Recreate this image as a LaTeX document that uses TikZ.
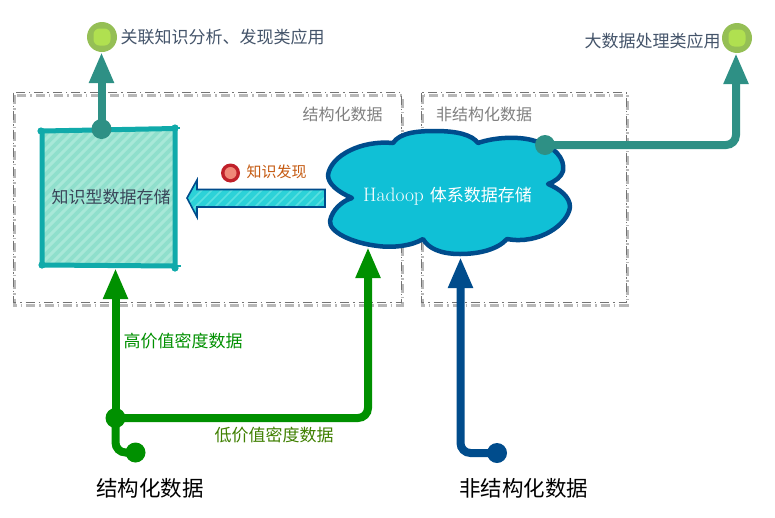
\documentclass[tikz,border=0pt]{standalone}
\usepackage{fontspec}
\newfontfamily\cjk{Noto Sans CJK SC}
\usetikzlibrary{arrows.meta}
\definecolor{tealA}{HTML}{2E9085}
\definecolor{greenA}{HTML}{009000}
\definecolor{blueA}{HTML}{004C8C}
\definecolor{boxline}{HTML}{10AAAA}
\definecolor{boxfill}{HTML}{8FDFCC}
\definecolor{boxhatch}{HTML}{A8E8D8}
\definecolor{cloudfill}{HTML}{10C0D6}
\definecolor{arrfill}{HTML}{2CD2D8}
\definecolor{arrhatch}{HTML}{5ADFE0}
\definecolor{inkA}{HTML}{44546A}
\definecolor{grayA}{HTML}{808080}
\definecolor{orangeA}{HTML}{C55A11}
\definecolor{oliveA}{HTML}{3F8000}
\definecolor{leafO}{HTML}{95BF55}
\definecolor{leafI}{HTML}{B0E050}
\definecolor{redO}{HTML}{C0202A}
\definecolor{redI}{HTML}{F08878}
\tikzset{
  x=1pt,y=-1pt,
  txt/.style={inner sep=0pt,outer sep=0pt,font=\cjk\fontsize{#1}{#1}\selectfont},
  flow/.style={line width=8pt,draw=#1,rounded corners=10pt,-{Triangle[length=31pt,width=23pt]}},
  plainflow/.style={line width=8pt,draw=#1,rounded corners=10pt},
  dotnode/.style={circle,fill=#1,inner sep=0pt,outer sep=0pt},
  frameline/.style={draw=black!55,line width=1pt,dash pattern=on 9pt off 4pt on 1.5pt off 4pt},
  frameshadow/.style={draw=black!28,line width=3pt,dash pattern=on 9pt off 4pt on 1.5pt off 4pt},
  leaf/.style={circle,fill=leafO,minimum size=30pt,inner sep=0pt,outer sep=0pt},
  leafcore/.style={rounded corners=6pt,fill=leafI,minimum size=17pt,inner sep=0pt},
}
\begin{document}
\begin{tikzpicture}
\useasboundingbox (0,0) rectangle (775,517);
\fill[white] (0,0) rectangle (775,517);
% frames
\draw[frameshadow] (14,95) rectangle (402,305);
\draw[frameshadow] (422,95) rectangle (627,305);
\draw[frameline] (13.5,92.5) rectangle (401,302.5);
\draw[frameline] (421.5,92.5) rectangle (626,302.5);
\node[txt=16,text=grayA] (lblS) at (342.5,114) {结构化数据};
\node[txt=16,text=grayA] (lblU) at (484,114) {非结构化数据};
% knowledge store
\fill[boxfill] (42,131) -- (175,128.5) -- (175,266) -- (42,265) -- cycle;
\begin{scope}
\clip (42,131) -- (175,128.5) -- (175,266) -- (42,265) -- cycle;
\foreach \i in {-130,-120,...,180} {\draw[boxhatch,line width=3pt] (\i,275) -- (\i+160,115);}
\end{scope}
\draw[boxline,line width=5pt] (42,131) -- (175,128.5) -- (175,266) -- (42,265) -- cycle;
\foreach \p/\q in {41/131,175/128,175/268,42/265} \fill[boxline] (\p,\q) circle (3.6);
\draw[boxline,line width=2pt] (38,131) -- (45,131) (172,128) -- (180,128) (39,265) -- (46,265) (172,266) -- (181,266);
\node[txt=17,text=inkA!85!black] (store) at (111,197) {知识型数据存储};
% discovery arrow
\path[fill=arrfill] (187,198) -- (197,180) -- (197,189.5) -- (325,189.5) -- (325,207) -- (197,207) -- (197,217) -- cycle;
\begin{scope}
\clip (187,198) -- (197,180) -- (197,189.5) -- (325,189.5) -- (325,207) -- (197,207) -- (197,217) -- cycle;
\foreach \i in {180,190,...,330} {\draw[arrhatch,line width=1.5pt] (\i,212) -- (\i+30,182);}
\end{scope}
\draw[blueA,line width=1.6pt,line join=miter] (187,198) -- (197,180) -- (197,189.5) -- (325,189.5) -- (325,207) -- (197,207) -- (197,217) -- cycle;
\node[circle,fill=redO,minimum size=19pt,inner sep=0pt] (disc) at (230.5,173) {};
\node[circle,fill=redI,minimum size=12pt,inner sep=0pt] at (disc) {};
\node[txt=15,text=orangeA] (discT) at (276.5,172) {知识发现};
% cloud
\draw[blueA,line width=4.5pt,fill=cloudfill,line join=round]
 (393,143) .. controls (400,132) and (420,131) .. (435,131)
 .. controls (458,131) and (472,135) .. (478,143)
 .. controls (495,137) and (520,136) .. (535,141)
 .. controls (555,147) and (565,158) .. (563,171)
 .. controls (561,177) and (556,181) .. (548,184)
 .. controls (560,189) and (570,197) .. (570,207)
 .. controls (568,224) and (540,245) .. (507,239)
 .. controls (497,250) and (478,254) .. (460,254)
 .. controls (440,254) and (428,248) .. (423,239)
 .. controls (412,246) and (392,248) .. (378,246)
 .. controls (352,243) and (329,232) .. (330,221)
 .. controls (332,210) and (342,201) .. (352,198)
 .. controls (338,192) and (328,184) .. (328,175)
 .. controls (331,155) and (362,140) .. (393,143) -- cycle;
\node[inner sep=0pt,text=white,font=\fontsize{19.5}{19.5}\selectfont] (hadoop) at (447.5,196) {Hadoop {\cjk\fontsize{17}{17}\selectfont 体系数据存储}};
% application circles
\node[leaf] (app1) at (102,37) {};
\node[leafcore] at (app1) {};
\node[leaf] (app2) at (737,38) {};
\node[leafcore] at (app2) {};
\node[txt=17,text=inkA] (app1T) at (222.5,37) {关联知识分析、发现类应用};
\node[txt=17,text=inkA] (app2T) at (652.5,41) {大数据处理类应用};
% teal connectors
\node[dotnode=tealA,minimum size=20pt] (d1) at (101.5,129) {};
\node[dotnode=tealA,minimum size=20pt] (d2) at (545,145) {};
\draw[flow=tealA] (d1.center) -- (d1 |- app1.south);
\coordinate (tip2) at (736,53);
\draw[flow=tealA] (d2.center) -- (d2 -| tip2) -- (tip2);
% green connectors
\node[dotnode=greenA,minimum size=20pt] (src) at (135.5,452.5) {};
\node[dotnode=greenA,minimum size=20pt] (jn) at (115.5,418) {};
\coordinate (tipA) at (115.5,268);
\coordinate (tipB) at (368,247);
\draw[plainflow=greenA] (src.center) -- (src -| jn) -- (jn.center);
\draw[flow=greenA] (jn.center) -- (tipA);
\draw[flow=greenA] (jn.center) -- (jn -| tipB) -- (tipB);
\node[txt=17,text=greenA] (high) at (183,341) {高价值密度数据};
\node[txt=17,text=oliveA] (low) at (274,435) {低价值密度数据};
% blue connector
\node[dotnode=blueA,minimum size=20pt] (srcU) at (497,453) {};
\coordinate (tipU) at (460.5,257);
\draw[flow=blueA] (srcU.center) -- (srcU -| tipU) -- (tipU);
\node[txt=21.5] (s) at (150,488) {结构化数据};
\node[txt=21.5] (u) at (523.5,488) {非结构化数据};
\end{tikzpicture}
\end{document}
